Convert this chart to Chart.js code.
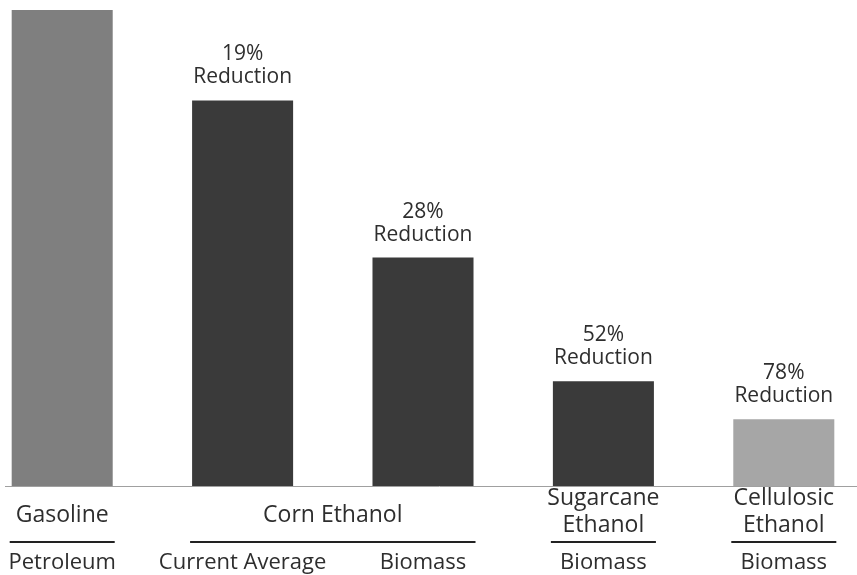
<!DOCTYPE html>
<html>
<head>
<meta charset="utf-8">
<script src="https://cdn.jsdelivr.net/npm/chart.js@4/dist/chart.umd.min.js"></script>
<style>
  body { margin: 0; background: #fff; overflow: hidden; }
  #wrap { position: absolute; left: -28px; top: 0; width: 902px; height: 575px; }
</style>
</head>
<body>
<div id="wrap"><canvas id="chart" width="902" height="575"></canvas></div>
<script>
// relative lifecycle GHG emissions, gasoline = 100
var fuels = ["Gasoline", "Corn Ethanol", "Corn Ethanol", "Sugarcane Ethanol", "Cellulosic Ethanol"];
var feedstocks = ["Petroleum", "Current Average", "Biomass", "Biomass", "Biomass"];
var emissions = [100, 81, 48, 22, 14];
var reductions = ["", "19%", "28%", "52%", "78%"];
var barColors = ["#7f7f7f", "#3a3a3a", "#3a3a3a", "#3a3a3a", "#a6a6a6"];

// fuel groups on the first label row
var groupNames = [["Gasoline"], ["Corn Ethanol"], ["Sugarcane", "Ethanol"], ["Cellulosic", "Ethanol"]];
var groupFirst = [0, 1, 3, 4];
var groupLast = [0, 2, 3, 4];

var textColor = "#2e2e2e";

var labelsPlugin = {
    id: "labels",
    afterDatasetsDraw: function(chart) {
        var ctx = chart.ctx;
        var meta = chart.getDatasetMeta(0);
        var x = chart.scales.x;
        var base = chart.chartArea.bottom;
        ctx.save();

        // axis line
        ctx.strokeStyle = "#a0a0a0";
        ctx.lineWidth = 1;
        ctx.beginPath();
        ctx.moveTo(33, base + 0.5);
        ctx.lineTo(chart.width, base + 0.5);
        ctx.stroke();

        ctx.fillStyle = textColor;
        ctx.textAlign = "center";
        ctx.textBaseline = "middle";

        // reduction labels above bars
        ctx.font = '21px "Open Sans"';
        for (var i = 0; i < reductions.length; i++) {
            if (!reductions[i]) continue;
            var bar = meta.data[i];
            ctx.fillText(reductions[i], bar.x, bar.y - 46);
            ctx.fillText("Reduction", bar.x, bar.y - 23);
        }

        // fuel group labels + underline
        ctx.font = '23px "Open Sans"';
        for (var g = 0; g < groupNames.length; g++) {
            var b0 = meta.data[groupFirst[g]];
            var b1 = meta.data[groupLast[g]];
            var left = b0.x - b0.width / 2;
            var right = b1.x + b1.width / 2;
            var cx = (x.getPixelForValue(groupFirst[g]) + x.getPixelForValue(groupLast[g])) / 2;
            var lines = groupNames[g];
            if (lines.length == 1) {
                ctx.fillText(lines[0], cx, base + 29);
            } else {
                ctx.fillText(lines[0], cx, base + 12);
                ctx.fillText(lines[1], cx, base + 39);
            }
            ctx.strokeStyle = "#222222";
            ctx.lineWidth = 2;
            ctx.beginPath();
            ctx.moveTo(left - 2, base + 56);
            ctx.lineTo(right + 2, base + 56);
            ctx.stroke();
        }

        // feedstock labels
        ctx.font = '22px "Open Sans"';
        for (var k = 0; k < feedstocks.length; k++) {
            ctx.fillText(feedstocks[k], x.getPixelForValue(k), base + 77);
        }
        ctx.restore();
    }
};

new Chart("chart", {
    type: "bar",
    data: {
        labels: feedstocks,
        datasets: [{
            data: emissions,
            backgroundColor: barColors,
            categoryPercentage: 1,
            barPercentage: 0.56
        }]
    },
    options: {
        responsive: false,
        animation: false,
        devicePixelRatio: 1,
        layout: { padding: { top: 10, bottom: 89, left: 0, right: 0 } },
        plugins: { legend: { display: false }, tooltip: { enabled: false } },
        scales: {
            x: { display: false },
            y: { display: false, min: 0, max: 100 }
        }
    },
    plugins: [labelsPlugin]
});
</script>
</body>
</html>
